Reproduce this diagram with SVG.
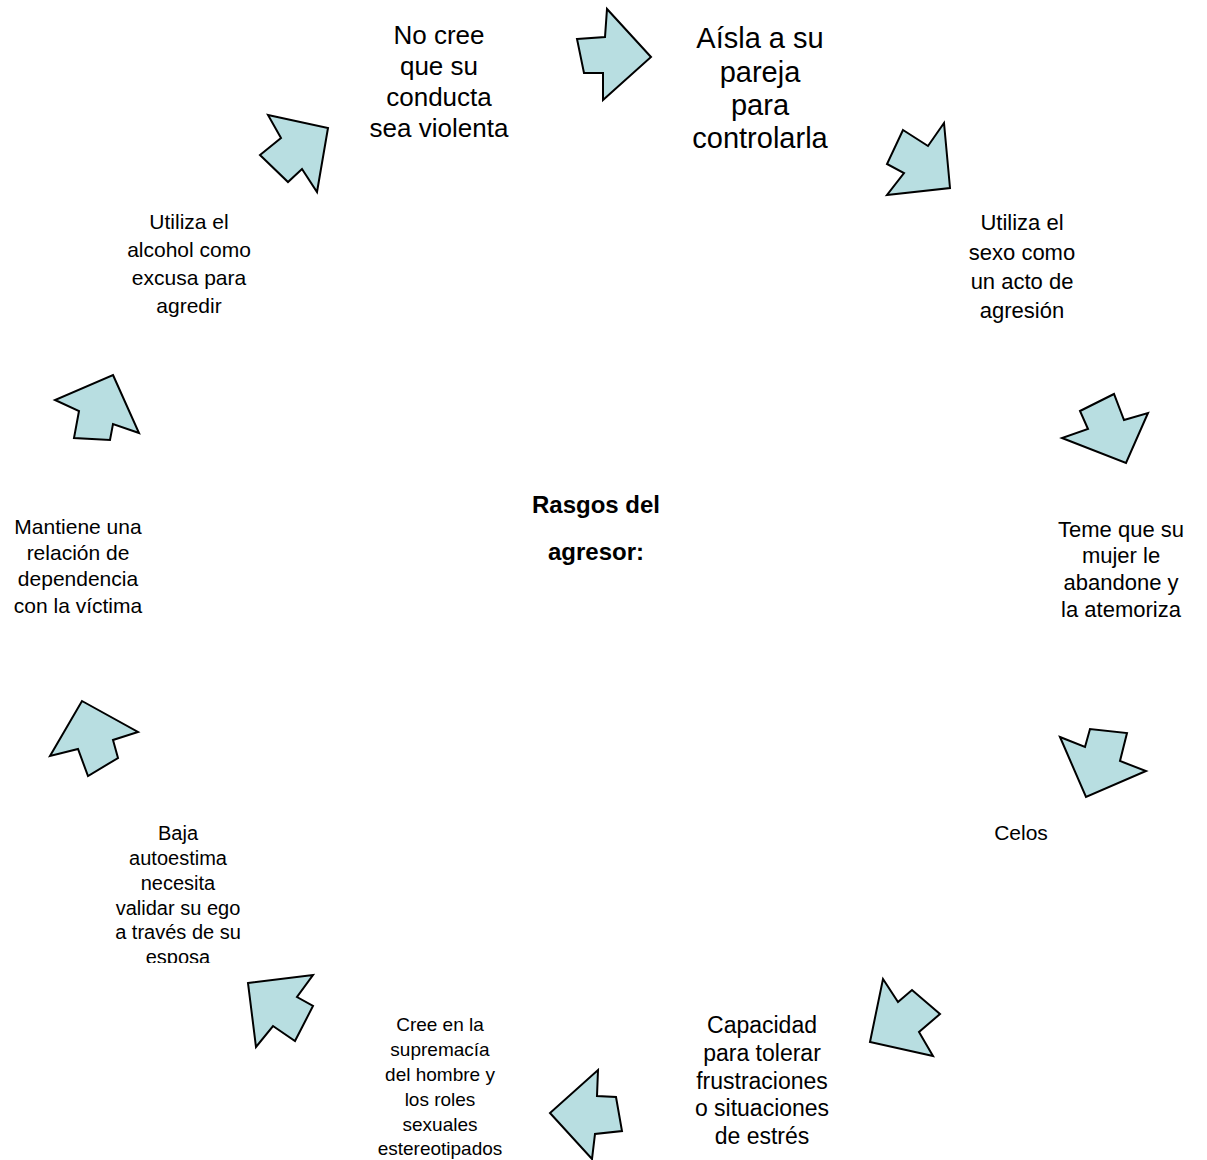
<svg xmlns="http://www.w3.org/2000/svg" width="1207" height="1160" viewBox="0 0 1207 1160">
<style>
.arrow{fill:#b8dee1;stroke:#000;stroke-width:2;stroke-linejoin:miter}
text{font-family:"Liberation Sans",Arial,sans-serif;fill:#000;text-anchor:middle}
</style>
<defs>
<clipPath id="clipBaja"><rect x="90" y="810" width="180" height="153"/></clipPath>
</defs>
<rect width="1207" height="1160" fill="#fff"/>
<g id="connectors">
<polygon class="arrow" points="577,39 605,37 607,9 651,57 603,100 603,73 584,73"/>
<polygon class="arrow" points="903,130 928,146 944,123 950,188 887,195 904,173 887,164"/>
<polygon class="arrow" points="1080,411 1114,394 1124,420 1148,413 1126,463 1062,438 1088,429"/>
<polygon class="arrow" points="1060,737 1085,747 1090,729 1127,733 1120,761 1146,771 1086,797"/>
<polygon class="arrow" points="883,979 898,1002 912,990 940,1014 919,1032 933,1056 870,1042"/>
<polygon class="arrow" points="598,1070 597,1096 616,1097 622,1131 595,1134 592,1159 550,1113"/>
<polygon class="arrow" points="248,983 313,975 297,997 313,1006 295,1041 273,1026 256,1047"/>
<polygon class="arrow" points="82,701 138,732 113,740 118,758 88,776 78,749 50,756"/>
<polygon class="arrow" points="113,375 139,433 113,424 110,440 74,438 79,411 55,400"/>
<polygon class="arrow" points="268,115 328,128 317,192 302,169 288,182 260,155 281,138"/>
</g>
<g id="center">
<text font-size="24" font-weight="bold"><tspan x="596" y="513">Rasgos del</tspan><tspan x="596" y="560">agresor:</tspan></text>
</g>
<g id="node-nocree">
<text font-size="26"><tspan x="439" y="44">No cree</tspan><tspan x="439" y="75">que su</tspan><tspan x="439" y="106">conducta</tspan><tspan x="439" y="137">sea violenta</tspan></text>
</g>
<g id="node-aisla">
<text font-size="29"><tspan x="760" y="48">Aísla a su</tspan><tspan x="760" y="82">pareja</tspan><tspan x="760" y="115">para</tspan><tspan x="760" y="148">controlarla</tspan></text>
</g>
<g id="node-sexo">
<text font-size="22"><tspan x="1022" y="230">Utiliza el</tspan><tspan x="1022" y="260">sexo como</tspan><tspan x="1022" y="289">un acto de</tspan><tspan x="1022" y="318">agresión</tspan></text>
</g>
<g id="node-teme">
<text font-size="22"><tspan x="1121" y="537">Teme que su</tspan><tspan x="1121" y="563">mujer le</tspan><tspan x="1121" y="590">abandone y</tspan><tspan x="1121" y="617">la atemoriza</tspan></text>
</g>
<g id="node-celos">
<text font-size="21"><tspan x="1021" y="840">Celos</tspan></text>
</g>
<g id="node-capacidad">
<text font-size="23"><tspan x="762" y="1033">Capacidad</tspan><tspan x="762" y="1061">para tolerar</tspan><tspan x="762" y="1089">frustraciones</tspan><tspan x="762" y="1116">o situaciones</tspan><tspan x="762" y="1144">de estrés</tspan></text>
</g>
<g id="node-cree">
<text font-size="19"><tspan x="440" y="1031">Cree en la</tspan><tspan x="440" y="1056">supremacía</tspan><tspan x="440" y="1081">del hombre y</tspan><tspan x="440" y="1106">los roles</tspan><tspan x="440" y="1131">sexuales</tspan><tspan x="440" y="1155">estereotipados</tspan></text>
</g>
<g id="node-baja">
<text font-size="20" clip-path="url(#clipBaja)"><tspan x="178" y="840">Baja</tspan><tspan x="178" y="865">autoestima</tspan><tspan x="178" y="890">necesita</tspan><tspan x="178" y="915">validar su ego</tspan><tspan x="178" y="939">a través de su</tspan><tspan x="178" y="964">esposa</tspan></text>
</g>
<g id="node-mantiene">
<text font-size="21"><tspan x="78" y="534">Mantiene una</tspan><tspan x="78" y="560">relación de</tspan><tspan x="78" y="586">dependencia</tspan><tspan x="78" y="613">con la víctima</tspan></text>
</g>
<g id="node-alcohol">
<text font-size="21"><tspan x="189" y="229">Utiliza el</tspan><tspan x="189" y="257">alcohol como</tspan><tspan x="189" y="285">excusa para</tspan><tspan x="189" y="313">agredir</tspan></text>
</g>
</svg>
